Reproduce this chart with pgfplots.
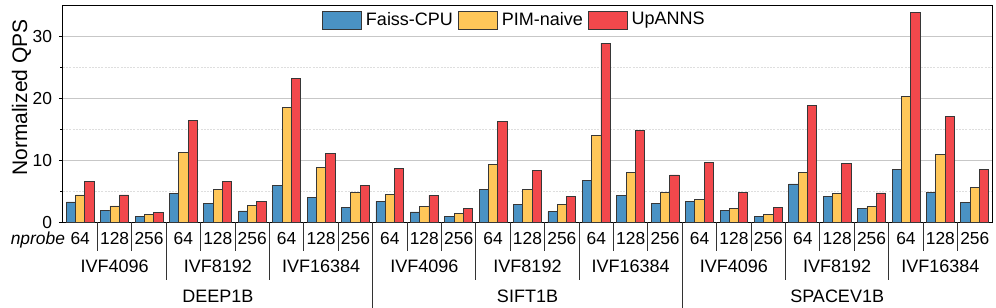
\documentclass[border=0pt]{standalone}
\usepackage{fontspec}
\setmainfont{Liberation Sans}
\usepackage{pgfplots}
\pgfplotsset{compat=1.18}
\usepackage{pgfplotstable}
\definecolor{cblue}{RGB}{74,146,196}
\definecolor{cyellow}{RGB}{255,199,89}
\definecolor{cred}{RGB}{242,72,76}
\definecolor{edge}{RGB}{55,55,55}
\pgfplotstableread{
idx cpu naive up
0 3.28 4.40 6.56
1 1.94 2.63 4.40
2 0.97 1.29 1.61
3 4.68 11.24 16.45
4 3.06 5.32 6.56
5 1.83 2.74 3.39
6 5.97 18.55 23.17
7 4.03 8.87 11.02
8 2.37 4.84 5.97
9 3.39 4.52 8.66
10 1.67 2.58 4.35
11 0.91 1.40 2.20
12 5.32 9.35 16.29
13 2.90 5.27 8.28
14 1.72 2.90 4.19
15 6.77 14.03 28.87
16 4.35 8.06 14.78
17 3.06 4.84 7.63
18 3.39 3.71 9.62
19 1.94 2.26 4.84
20 0.97 1.29 2.42
21 6.18 8.06 18.87
22 4.14 4.68 9.52
23 2.26 2.58 4.73
24 8.49 20.27 33.87
25 4.84 10.86 17.10
26 3.23 5.65 8.55
}\datatable
\tikzset{sep/.style={draw=black!80, line width=0.5pt}}
\pgfplotsset{
  mylegend/.style={legend image code/.code={\draw[##1] (0pt,-4.5pt) rectangle (19.5pt,4.5pt);}},
}
\begin{document}
\begin{tikzpicture}
\path[use as bounding box] (-31.5pt,-42.35pt) rectangle (466.5pt,111.15pt);
\begin{axis}[
  at={(0pt,0pt)}, anchor=south west,
  scale only axis, width=464.5pt, height=108.65pt,
  xmin=-0.5, xmax=26.5, ymin=0, ymax=35,
  ybar, bar width=0.27,
  ytick={0,10,20,30}, minor ytick={5,15,25},
  ymajorgrids, yminorgrids,
  major grid style={draw=black!22, line width=0.5pt},
  minor grid style={draw=black!13, dash pattern=on 1pt off 0.6pt, line width=0.4pt},
  xtick={0,...,26},
  xticklabels={64,128,256,64,128,256,64,128,256,64,128,256,64,128,256,64,128,256,64,128,256,64,128,256,64,128,256},
  xtick style={draw=none},
  ytick pos=left,
  tick align=outside,
  major tick length=2pt, minor tick length=1.3pt,
  tick style={black, line width=0.5pt},
  axis line style={line width=0.5pt},
  /pgf/number format/assume math mode=true,
  yticklabel style={font=\fontsize{8.7}{10}\selectfont},
  xticklabel style={font=\fontsize{8.7}{10}\selectfont, anchor=base, yshift=-9pt},
  every axis y label/.style={at={([xshift=-20.75pt]axis description cs:0,0.574)}, rotate=90, anchor=center, font=\fontsize{10.5}{12}\selectfont},
  ylabel={Normalized QPS},
  clip=false,
  legend columns=3,
  legend style={at={(0.487,1)}, anchor=center, yshift=-7.5pt, draw=none, fill=none,
    inner sep=0pt, font=\fontsize{9}{11}\selectfont,
    /tikz/every even column/.append style={column sep=0.5pt}},
]
\addplot[fill=cblue, draw=edge, line width=0.4pt, bar shift=-0.27, mylegend] table[x=idx, y=cpu] {\datatable};
\addplot[fill=cyellow, draw=edge, line width=0.4pt, bar shift=0, mylegend] table[x=idx, y=naive] {\datatable};
\addplot[fill=cred, draw=edge, line width=0.4pt, bar shift=0.27, mylegend] table[x=idx, y=up] {\datatable};
\legend{Faiss-CPU, PIM-naive, UpANNS}
\pgfplotsinvokeforeach{0.5,1.5,3.5,4.5,6.5,7.5,9.5,10.5,12.5,13.5,15.5,16.5,18.5,19.5,21.5,22.5,24.5,25.5}{
  \draw[sep] (axis cs:#1,0) -- ++(0pt,-14.3pt);
}
\pgfplotsinvokeforeach{2.5,5.5,11.5,14.5,20.5,23.5}{
  \draw[sep] (axis cs:#1,0) -- ++(0pt,-28.9pt);
}
\pgfplotsinvokeforeach{8.5,17.5}{
  \draw[sep] (axis cs:#1,0) -- ++(0pt,-43pt);
}
\node[anchor=base east, font=\fontsize{8.7}{10}\selectfont\itshape, inner sep=0pt] at ([xshift=1.2pt,yshift=-11pt]axis cs:-0.5,0) {nprobe};
\pgfplotsinvokeforeach{1,10,19}{
  \node[anchor=base, font=\fontsize{9}{11}\selectfont, inner sep=0pt] at ([yshift=-25pt]axis cs:#1,0) {IVF4096};
}
\pgfplotsinvokeforeach{4,13,22}{
  \node[anchor=base, font=\fontsize{9}{11}\selectfont, inner sep=0pt] at ([yshift=-25pt]axis cs:#1,0) {IVF8192};
}
\pgfplotsinvokeforeach{7,16,25}{
  \node[anchor=base, font=\fontsize{9}{11}\selectfont, inner sep=0pt] at ([yshift=-25pt]axis cs:#1,0) {IVF16384};
}
\node[anchor=base, font=\fontsize{9}{11}\selectfont, inner sep=0pt] at ([yshift=-40pt]axis cs:4,0) {DEEP1B};
\node[anchor=base, font=\fontsize{9}{11}\selectfont, inner sep=0pt] at ([yshift=-40pt]axis cs:13,0) {SIFT1B};
\node[anchor=base, font=\fontsize{9}{11}\selectfont, inner sep=0pt] at ([yshift=-40pt]axis cs:22,0) {SPACEV1B};
\end{axis}
\end{tikzpicture}
\end{document}
